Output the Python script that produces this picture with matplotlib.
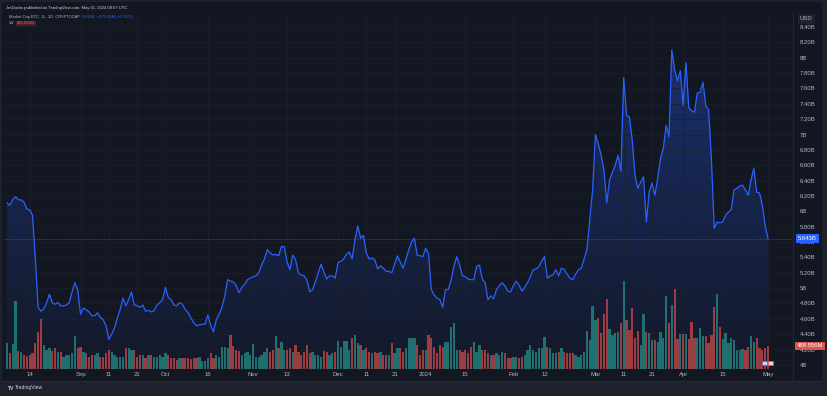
import matplotlib
matplotlib.use("Agg")
import matplotlib.pyplot as plt
import matplotlib.dates as mdates
import matplotlib.transforms as mtransforms
from matplotlib.patches import Rectangle, Polygon
import numpy as np
import pandas as pd

# ---------------- data ----------------
start_date = "2023-08-06"

market_cap_b = [
    6.11, 6.08, 6.15, 6.19, 6.15, 6.15, 6.12, 6.03, 6.02, 5.95,
    5.40, 4.75, 4.70, 4.73, 4.81, 4.92, 4.81, 4.79, 4.81, 4.77,
    4.77, 4.78, 4.81, 4.95, 5.07, 4.98, 4.66, 4.74, 4.72, 4.69,
    4.64, 4.64, 4.68, 4.62, 4.59, 4.51, 4.33, 4.40, 4.48, 4.61,
    4.72, 4.87, 4.77, 4.85, 4.95, 4.78, 4.77, 4.75, 4.78, 4.70,
    4.71, 4.69, 4.71, 4.78, 4.81, 4.85, 5.01, 4.88, 4.85, 4.78,
    4.77, 4.81, 4.79, 4.72, 4.68, 4.61, 4.55, 4.51, 4.52, 4.53,
    4.53, 4.65, 4.51, 4.43, 4.59, 4.66, 4.75, 4.90, 5.11, 5.09,
    5.08, 5.03, 4.94, 5.01, 5.05, 5.11, 5.13, 5.15, 5.16, 5.20,
    5.30, 5.38, 5.50, 5.46, 5.43, 5.44, 5.42, 5.54, 5.54, 5.34,
    5.24, 5.43, 5.37, 5.20, 5.17, 5.16, 5.11, 4.95, 4.98, 5.08,
    5.20, 5.31, 5.21, 5.12, 5.16, 5.16, 5.13, 5.33, 5.35, 5.38,
    5.44, 5.47, 5.38, 5.63, 5.81, 5.65, 5.69, 5.46, 5.38, 5.39,
    5.37, 5.25, 5.29, 5.26, 5.22, 5.22, 5.20, 5.31, 5.42, 5.34,
    5.26, 5.37, 5.50, 5.60, 5.65, 5.43, 5.42, 5.41, 5.52, 5.45,
    4.98, 4.91, 4.87, 4.85, 4.75, 4.98, 4.98, 5.11, 5.29, 5.41,
    5.30, 5.16, 5.15, 5.12, 5.11, 5.11, 5.28, 5.30, 5.12, 5.07,
    4.85, 4.90, 4.86, 4.98, 5.03, 5.07, 5.03, 4.96, 4.95, 5.03,
    5.09, 5.04, 4.96, 5.01, 5.07, 5.15, 5.24, 5.25, 5.28, 5.35,
    5.41, 5.13, 5.16, 5.17, 5.24, 5.16, 5.26, 5.24, 5.18, 5.13,
    5.11, 5.18, 5.24, 5.26, 5.38, 5.50, 5.89, 6.28, 7.00, 6.88,
    6.73, 6.54, 6.11, 6.41, 6.51, 6.60, 6.73, 6.52, 7.74, 7.25,
    7.23, 6.93, 6.47, 6.30, 6.38, 6.45, 5.86, 6.25, 6.37, 6.21,
    6.43, 6.69, 6.82, 7.12, 6.97, 8.10, 7.84, 7.70, 7.83, 7.38,
    7.94, 7.35, 7.31, 7.29, 7.54, 7.55, 7.68, 7.38, 7.32, 6.67,
    5.78, 5.86, 5.85, 5.86, 5.95, 5.99, 6.02, 6.28, 6.30, 6.33,
    6.34, 6.28, 6.21, 6.41, 6.56, 6.25, 6.24, 6.08, 5.815, 5.643,
]

volume_m = [
    546, 336, 525, 1449, 378, 357, 294, 273, 294, 336,
    546, 777, 1050, 504, 399, 441, 378, 441, 357, 357,
    252, 294, 294, 336, 693, 441, 462, 357, 336, 252,
    294, 294, 336, 252, 252, 336, 399, 357, 294, 252,
    252, 252, 441, 441, 399, 399, 252, 294, 294, 231,
    294, 294, 252, 252, 294, 252, 336, 294, 231, 231,
    189, 231, 231, 231, 231, 210, 231, 231, 252, 168,
    168, 231, 336, 231, 294, 252, 462, 462, 441, 714,
    483, 399, 378, 294, 336, 357, 294, 525, 252, 252,
    294, 357, 441, 357, 399, 693, 441, 567, 399, 399,
    441, 357, 504, 357, 294, 357, 504, 336, 357, 294,
    294, 252, 378, 357, 294, 336, 357, 588, 462, 588,
    588, 399, 651, 714, 546, 504, 399, 441, 357, 336,
    357, 336, 357, 294, 294, 294, 546, 336, 441, 441,
    357, 441, 651, 651, 651, 504, 294, 399, 399, 714,
    651, 462, 336, 504, 462, 567, 567, 882, 966, 399,
    399, 357, 399, 336, 462, 567, 357, 504, 399, 399,
    336, 294, 294, 336, 294, 357, 336, 231, 231, 252,
    252, 231, 252, 294, 399, 504, 399, 357, 441, 441,
    672, 462, 441, 336, 336, 357, 441, 357, 336, 336,
    336, 294, 252, 294, 357, 798, 609, 1344, 1029, 1071,
    756, 1176, 1491, 840, 714, 756, 777, 966, 1869, 1029,
    819, 1302, 651, 798, 504, 1176, 777, 756, 609, 609,
    567, 777, 651, 1554, 966, 1365, 1701, 630, 735, 735,
    735, 630, 987, 651, 651, 861, 693, 693, 546, 714,
    1323, 1596, 882, 630, 756, 546, 651, 609, 399, 399,
    420, 399, 462, 693, 567, 651, 441, 399, 441, 488.556,
]

tick_dates = ["2023-08-14", "2023-09-01", "2023-09-11", "2023-09-21", "2023-10-01",
              "2023-10-16", "2023-11-01", "2023-11-13", "2023-12-01", "2023-12-11",
              "2023-12-21", "2024-01-01", "2024-01-15", "2024-02-01", "2024-02-12",
              "2024-03-01", "2024-03-11", "2024-03-21", "2024-04-01", "2024-04-15",
              "2024-05-01"]
tick_labels = ["14", "Sep", "11", "21", "Oct", "16", "Nov", "13", "Dec", "11", "21",
               "2024", "15", "Feb", "12", "Mar", "11", "21", "Apr", "15", "May"]
price_levels = [4.0, 4.2, 4.4, 4.6, 4.8, 5.0, 5.2, 5.4, 5.6, 5.8, 6.0, 6.2,
                6.4, 6.6, 6.8, 7.0, 7.2, 7.4, 7.6, 7.8, 8.0, 8.2, 8.4]

header_text = "JetDocks published on TradingView.com, May 01, 2024 08:57 UTC"
series_title = "Market Cap ETC, 1L, 1D, CRYPTOCAP"
series_value = "5.643B  \u2212171.89M (\u22122.95%)"
vol_title = "Vol"
vol_value = "488.556M"
last_price_label = "5.643B"
last_vol_label = "488.556M"

# ---------------- figure ----------------
W, H = 827, 396
fig = plt.figure(figsize=(W / 100, H / 100), dpi=100)
fig.patch.set_facecolor("#1e222d")
plt.rcParams["font.family"] = ["Liberation Sans", "DejaVu Sans"]

BG = "#131722"
TXT = "#b2b5be"
BLUE = "#2962ff"
GREEN = "#26a69a"
RED = "#ef5350"

def rect(px0, py0, px1, py1):
    return [px0 / W, 1 - py1 / H, (px1 - px0) / W, (py1 - py0) / H]

fig.patches.append(Rectangle((2 / W, 1 - 381 / H), (822 - 2) / W, (381 - 2) / H,
                             transform=fig.transFigure, facecolor=BG,
                             edgecolor="none", zorder=-5))

dates = pd.date_range(start_date, periods=len(market_cap_b), freq="D")
xd = mdates.date2num(dates)
prices = np.array(market_cap_b)
vols = np.array(volume_m)

px_per_day = 2.829
x_lo = xd[0] - (7 - 3) / px_per_day
x_hi = xd[0] + (793 - 7) / px_per_day
px_per_b = 15.36 / 0.2
y_lo = 8.4 - (369 - 27) / px_per_b
y_hi = 8.4 + (27 - 12) / px_per_b

ax = fig.add_axes(rect(3, 12, 793, 369))
ax.set_facecolor(BG)

# gradient area
n = 256
g = np.linspace(0, 1, n)
rgba = np.zeros((n, 1, 4))
rgba[:, 0, 0] = 41 / 255
rgba[:, 0, 1] = 98 / 255
rgba[:, 0, 2] = 1.0
rgba[:, 0, 3] = 0.03 + 0.30 * g
im = ax.imshow(rgba, extent=[xd[0], xd[-1], y_lo, prices.max()], origin="lower",
               aspect="auto", zorder=1, interpolation="bilinear")
poly = Polygon(np.column_stack([np.r_[xd[0], xd, xd[-1]], np.r_[y_lo, prices, y_lo]]),
               closed=True, facecolor="none", edgecolor="none")
ax.add_patch(poly)
im.set_clip_path(poly)

ax.plot(xd, prices, color=BLUE, lw=0.9, zorder=4)
ax.axhline(prices[-1], color=BLUE, lw=0.6, ls=(0, (1, 1.5)), zorder=3, alpha=0.9)

ax.set_xlim(x_lo, x_hi)
ax.set_ylim(y_lo, y_hi)

ax.set_xticks(mdates.date2num(pd.to_datetime(tick_dates)))
ax.set_xticklabels(tick_labels)
ax.yaxis.tick_right()
ax.set_yticks(price_levels)

def fmt(v):
    if abs(v - round(v)) < 1e-9:
        return f"{int(round(v))}B"
    return f"{v:.2f}B"

ax.set_yticklabels([fmt(v) for v in price_levels])
ax.tick_params(axis="x", length=0, pad=2.2, labelsize=4.3, labelcolor=TXT)
ax.tick_params(axis="y", length=0, pad=5, labelsize=4.3, labelcolor=TXT)
ax.grid(True, color="#1d212c", lw=0.5, zorder=0)
for s in ax.spines.values():
    s.set_visible(False)

# volume overlay
axv = fig.add_axes(rect(3, 12, 793, 369))
axv.patch.set_alpha(0)
axv.set_axis_off()
up = np.r_[True, np.diff(prices) >= 0]
cols = [GREEN if u else RED for u in up]
axv.bar(xd, vols, width=0.8, color=cols, alpha=0.62, linewidth=0, zorder=2)
axv.set_xlim(x_lo, x_hi)
axv.set_ylim(0, 357 * 21.2)

# separators
fig.add_artist(plt.Line2D([793 / W, 793 / W], [1 - 381 / H, 1 - 12 / H],
                          transform=fig.transFigure, color="#2a2e39", lw=0.5))
fig.add_artist(plt.Line2D([2 / W, 822 / W], [1 - 381 / H, 1 - 381 / H],
                          transform=fig.transFigure, color="#2a2e39", lw=0.6))

# last value labels on the price scale
tp = mtransforms.blended_transform_factory(fig.transFigure, ax.transData)
fig.text(798 / W, prices[-1], last_price_label, transform=tp, ha="left", va="center",
         fontsize=4.3, color="white", zorder=10,
         bbox=dict(boxstyle="square,pad=0.3", fc=BLUE, ec="none"))
tv = mtransforms.blended_transform_factory(fig.transFigure, axv.transData)
fig.text(797 / W, vols[-1], last_vol_label, transform=tv, ha="left", va="center",
         fontsize=4.3, color="white", zorder=10,
         bbox=dict(boxstyle="square,pad=0.3", fc="#d9534f", ec="none"))
fig.text(800 / W, 1 - 19 / H, "USD", ha="left", va="center", fontsize=4.3, color=TXT,
         zorder=10, bbox=dict(boxstyle="square,pad=0.35", fc="#1e222d", ec="none"))

# header / legend
fig.text(6 / W, 1 - 8 / H, header_text, ha="left", va="center", fontsize=3.0, color="#d1d4dc")
fig.text(9 / W, 1 - 17 / H, series_title, ha="left", va="center", fontsize=2.9, color=TXT)
fig.text(82 / W, 1 - 17 / H, series_value, ha="left", va="center", fontsize=2.9, color=BLUE)
fig.text(9 / W, 1 - 23.5 / H, vol_title, ha="left", va="center", fontsize=2.9, color=TXT)
fig.text(17 / W, 1 - 23.5 / H, vol_value, ha="left", va="center", fontsize=2.9, color=RED,
         bbox=dict(boxstyle="square,pad=0.2", fc="#4a2228", ec="none"))

# small event markers near the last bar
for i, (fc, ec) in enumerate([("#c9d6ff", BLUE), ("#ffd0d0", RED)]):
    fig.patches.append(Rectangle(((762 + i * 6) / W, 1 - 365 / H), 5 / W, 4 / H,
                                 transform=fig.transFigure, facecolor=fc,
                                 edgecolor=ec, lw=0.4, zorder=12))

# footer
fig.text(8 / W, 1 - 388 / H, "TV", ha="left", va="center", fontsize=3.6,
         color="#d1d4dc", fontweight="bold")
fig.text(15 / W, 1 - 388 / H, "TradingView", ha="left", va="center", fontsize=3.6,
         color="#d1d4dc")

fig.savefig("out.png", dpi=100, facecolor=fig.get_facecolor())
